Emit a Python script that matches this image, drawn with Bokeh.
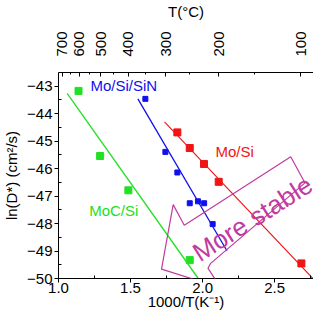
import math
from bokeh.plotting import figure
from bokeh.models import LinearAxis, FixedTicker, Range1d, PolyAnnotation, PrintfTickFormatter
from bokeh.core.properties import value
from bokeh.embed import file_html
from bokeh.resources import INLINE

# --- data ---
moc_x = [1.139, 1.289, 1.485, 1.911]
moc_y = [-43.17, -45.54, -46.79, -49.33]
moc_fit_x = [1.06, 1.97]
moc_fit_y = [-43.26, -50.0]

sin_x = [1.603, 1.742, 1.825, 1.911, 1.968, 2.011, 2.070]
sin_y = [-43.46, -45.39, -46.14, -47.26, -47.19, -47.26, -48.02]
sin_fit_x = [1.551, 2.169]
sin_fit_y = [-43.46, -48.99]

mosi_x = [1.825, 1.911, 2.010, 2.112, 2.686]
mosi_y = [-44.68, -45.25, -45.83, -46.48, -49.45]
mosi_fit_x = [1.736, 2.80]
mosi_fit_y = [-44.30, -50.19]

top_labels = [700, 600, 500, 400, 300, 200, 100]
top_minor = [650, 550, 450, 350, 250, 150]
bottom_ticks = [1.0, 1.5, 2.0, 2.5]
left_ticks = [-50, -49, -48, -47, -46, -45, -44, -43]

arrow_x = [2.127, 1.715, 1.796, 1.873, 2.612, 2.711, 2.054, 2.038]
arrow_y = [-50.34, -49.66, -47.31, -48.06, -45.57, -46.52, -49.46, -49.63]

GREEN = "#22e022"
BLUE = "#1010ee"
RED = "#f01414"
MAG = "#c23aa0"
FONT = "Liberation Sans"

p = figure(width=313, height=314, output_backend="svg", toolbar_location=None,
           x_range=Range1d(1.0, 2.77), y_range=Range1d(-50.0, -42.5),
           min_border_left=49, min_border_right=0, min_border_top=67,
           min_border_bottom=36, title=None)
p.outline_line_color = None
p.xgrid.visible = False
p.ygrid.visible = False
p.background_fill_color = "white"
p.border_fill_color = "white"

def style_axis(ax, tick_in, tick_out, minor_in, minor_out):
    ax.axis_line_color = "black"
    ax.major_tick_line_color = "black"
    ax.minor_tick_line_color = "black"
    ax.major_tick_in = tick_in
    ax.major_tick_out = tick_out
    ax.minor_tick_in = minor_in
    ax.minor_tick_out = minor_out
    ax.major_label_text_font = FONT
    ax.major_label_text_font_size = "15px"
    ax.major_label_text_color = "black"
    ax.axis_label_text_font = FONT
    ax.axis_label_text_font_size = "15px"
    ax.axis_label_text_font_style = "normal"
    ax.axis_label_text_color = "black"

xa = p.xaxis[0]
xa.ticker = FixedTicker(ticks=bottom_ticks,
                        minor_ticks=[1.25, 1.75, 2.25, 2.75])
xa.formatter = PrintfTickFormatter(format="%.1f")
xa.axis_label = "1000/T(K\u207b\u00b9)"
style_axis(xa, 0, 4, 3, 0)
xa.major_label_standoff = 0
xa.axis_label_standoff = -3

ya = p.yaxis[0]
ya.ticker = FixedTicker(ticks=left_ticks,
                        minor_ticks=[v + 0.5 for v in left_ticks[:-1]])
ya.axis_label = "ln(D*) (cm\u00b2/s)"
style_axis(ya, 0, 4, 3, 0)
ya.major_label_standoff = 2
ya.axis_label_standoff = 4

top_pos = [1000.0 / (t + 273.15) for t in top_labels]
top_minor_pos = [1000.0 / (t + 273.15) for t in top_minor]
ta = LinearAxis(ticker=FixedTicker(ticks=top_pos, minor_ticks=top_minor_pos),
                major_label_overrides={pos: str(t) for pos, t in zip(top_pos, top_labels)},
                axis_label="T(\u00b0C)")
style_axis(ta, 4, 0, 2, 0)
ta.major_label_orientation = math.pi / 2
ta.major_label_standoff = 16
ta.axis_label_standoff = 8
p.add_layout(ta, "above")

# fits
p.line(moc_fit_x, moc_fit_y, line_color=GREEN, line_width=1.3)
p.line(sin_fit_x, sin_fit_y, line_color=BLUE, line_width=1.3)
p.line(mosi_fit_x, mosi_fit_y, line_color=RED, line_width=1.1)

# points
p.scatter(moc_x, moc_y, marker="square", size=7, color=GREEN)
p.scatter(sin_x, sin_y, marker="square", size=5, color=BLUE)
p.scatter(mosi_x, mosi_y, marker="square", size=7, color=RED)

# labels
p.text(x=[1.222], y=[-42.98], text=["Mo/Si/SiN"], text_color=BLUE,
       text_font=value(FONT), text_font_size="15px", text_baseline="middle")
p.text(x=[2.089], y=[-45.39], text=["Mo/Si"], text_color=RED,
       text_font=value(FONT), text_font_size="15px", text_baseline="middle")
p.text(x=[1.213], y=[-47.53], text=["MoC/Si"], text_color=GREEN,
       text_font=value(FONT), text_font_size="15px", text_baseline="middle")

# arrow
arrow = PolyAnnotation(xs=arrow_x, ys=arrow_y, fill_alpha=0, fill_color=None,
                       line_color=MAG, line_alpha=1.0, line_width=1.2)
p.add_layout(arrow)
p.text(x=[1.949], y=[-49.14], text=["More stable"], text_color=MAG,
       text_font=value(FONT), text_font_size="26px", angle=0.565,
       text_baseline="alphabetic", text_align="left")

open("out.html", "w").write(file_html(p, INLINE))
